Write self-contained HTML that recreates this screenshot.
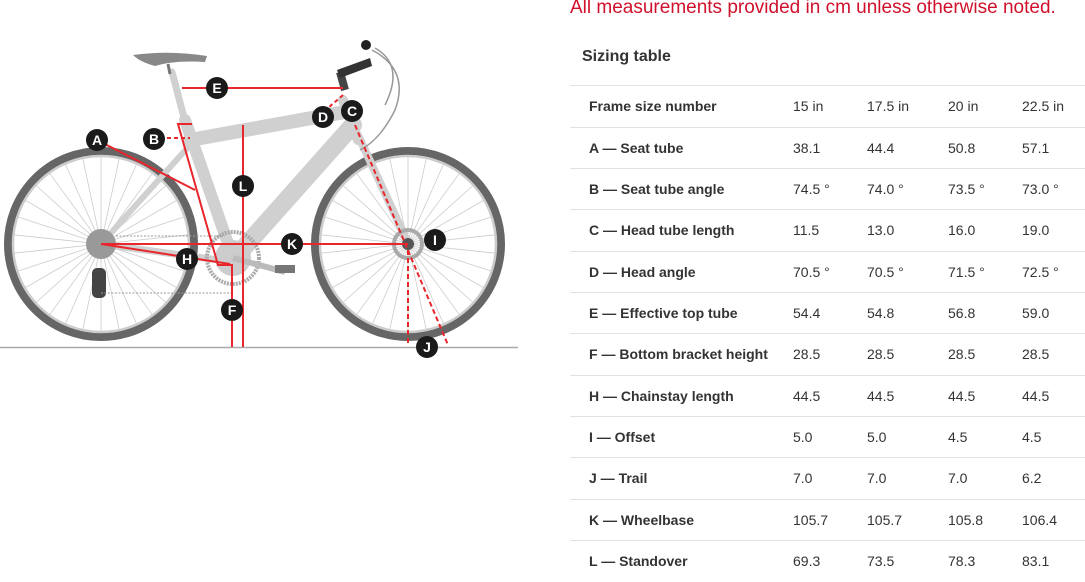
<!DOCTYPE html>
<html><head><meta charset="utf-8"><style>
body{margin:0;width:1085px;height:566px;overflow:hidden;background:#fff;font-family:"Liberation Sans",Arial,sans-serif;position:relative}
.hdr{position:absolute;left:570px;top:-3px;font-size:19px;color:#d0112b;white-space:nowrap}
.title{position:absolute;left:582px;top:48px;font-size:16px;font-weight:bold;color:#333}
.row{position:absolute;left:570px;width:515px;height:41px;border-top:1px solid #e2e2e2;font-size:14px;color:#333}
.row span{position:absolute;top:12px;white-space:nowrap}
.row .l{left:19px;font-weight:bold}
.c1{left:223px}.c2{left:297px}.c3{left:378px}.c4{left:452px}
</style></head><body>
<svg width="530" height="360" style="position:absolute;left:0;top:0">
<defs>
<g id="spk" stroke="#ccc" stroke-width="0.8">
<line x1="0" y1="-88" x2="0" y2="88"/><line x1="0" y1="-88" x2="0" y2="88" transform="rotate(12)"/><line x1="0" y1="-88" x2="0" y2="88" transform="rotate(24)"/><line x1="0" y1="-88" x2="0" y2="88" transform="rotate(36)"/><line x1="0" y1="-88" x2="0" y2="88" transform="rotate(48)"/><line x1="0" y1="-88" x2="0" y2="88" transform="rotate(60)"/><line x1="0" y1="-88" x2="0" y2="88" transform="rotate(72)"/><line x1="0" y1="-88" x2="0" y2="88" transform="rotate(84)"/><line x1="0" y1="-88" x2="0" y2="88" transform="rotate(96)"/><line x1="0" y1="-88" x2="0" y2="88" transform="rotate(108)"/><line x1="0" y1="-88" x2="0" y2="88" transform="rotate(120)"/><line x1="0" y1="-88" x2="0" y2="88" transform="rotate(132)"/><line x1="0" y1="-88" x2="0" y2="88" transform="rotate(144)"/><line x1="0" y1="-88" x2="0" y2="88" transform="rotate(156)"/><line x1="0" y1="-88" x2="0" y2="88" transform="rotate(168)"/>
</g>
</defs>
<line x1="0" y1="347.5" x2="518" y2="347.5" stroke="#aaa" stroke-width="1.5"/>
<use href="#spk" transform="translate(101,244)"/>
<use href="#spk" transform="translate(408,244)"/>
<circle cx="101" cy="244" r="93" fill="none" stroke="#666" stroke-width="8"/>
<circle cx="101" cy="244" r="88" fill="none" stroke="#ccc" stroke-width="2.5"/>
<circle cx="408" cy="244" r="93" fill="none" stroke="#666" stroke-width="8"/>
<circle cx="408" cy="244" r="88" fill="none" stroke="#ccc" stroke-width="2.5"/>
<g stroke="#d0d0d0" stroke-linecap="round" fill="none">
<line x1="101" y1="244" x2="233" y2="262" stroke-width="7"/>
<line x1="101" y1="244" x2="190" y2="145" stroke-width="6"/>
<line x1="185" y1="120" x2="233" y2="258" stroke-width="12"/>
<line x1="172" y1="72" x2="186" y2="125" stroke-width="7"/>
<line x1="190" y1="140" x2="345" y2="112" stroke-width="14"/>
<line x1="353" y1="125" x2="240" y2="252" stroke-width="18"/>
<line x1="343" y1="100" x2="358" y2="140" stroke-width="10"/>
<line x1="358" y1="135" x2="408" y2="243" stroke-width="8"/>
</g>
<path d="M133 55 Q170 50 207 56 L205 62 Q175 60 155 66 Q140 62 133 55Z" fill="#888"/>
<line x1="168" y1="64" x2="170" y2="74" stroke="#777" stroke-width="3"/>
<line x1="340" y1="72" x2="345" y2="90" stroke="#444" stroke-width="8"/>
<path d="M337 70 L370 58 L372 66 L340 78Z" fill="#333"/>
<circle cx="366" cy="45" r="5" fill="#222"/>
<path d="M372 50 Q410 70 395 110 Q380 140 360 150" stroke="#999" fill="none" stroke-width="1.5"/>
<path d="M375 48 Q405 65 385 105" stroke="#999" fill="none" stroke-width="1.5"/>
<circle cx="233" cy="258" r="26" fill="none" stroke="#aaa" stroke-width="4" stroke-dasharray="2 1"/>
<circle cx="233" cy="258" r="18" fill="#ccc"/>
<circle cx="101" cy="244" r="15" fill="#999"/>
<circle cx="408" cy="244" r="14" fill="none" stroke="#aaa" stroke-width="4"/>
<circle cx="408" cy="244" r="6" fill="#555"/>
<rect x="92" y="268" width="14" height="30" rx="5" fill="#444"/>
<line x1="116" y1="236" x2="225" y2="236" stroke="#999" stroke-dasharray="2 1.5"/>
<line x1="101" y1="293" x2="233" y2="293" stroke="#999" stroke-dasharray="2 1.5"/>
<line x1="233" y1="258" x2="285" y2="272" stroke="#bbb" stroke-width="6"/>
<rect x="275" y="265" width="20" height="8" fill="#777"/>
<g stroke="#e8262b" stroke-width="2" fill="none">
<line x1="182" y1="88" x2="343" y2="88"/>
<line x1="343" y1="95" x2="328" y2="108" stroke-dasharray="4 3"/>
<line x1="355" y1="125" x2="448" y2="345" stroke-dasharray="5 3"/>
<line x1="408" y1="250" x2="408" y2="345" stroke-dasharray="5 3"/>
<line x1="101" y1="244" x2="408" y2="244"/>
<line x1="243" y1="125" x2="243" y2="347"/>
<line x1="232" y1="264" x2="232" y2="347"/>
<line x1="101" y1="244" x2="230" y2="264"/>
<polyline points="97,140 195,190"/>
<polyline points="192,124 178,124 218,265 232,265"/>
<line x1="167" y1="138" x2="190" y2="138" stroke-dasharray="4 3"/>
</g>
<g fill="#1a1a1a">
<circle cx="217" cy="88" r="11"/><circle cx="323" cy="117" r="11"/><circle cx="352" cy="111" r="11"/>
<circle cx="97" cy="140" r="11"/><circle cx="154" cy="139" r="11"/><circle cx="243" cy="186" r="11"/>
<circle cx="292" cy="244" r="11"/><circle cx="187" cy="259" r="11"/><circle cx="232" cy="310" r="11"/>
<circle cx="435" cy="240" r="11"/><circle cx="427" cy="347" r="11"/>
</g>
<g fill="#fff" font-family="Liberation Sans,Arial,sans-serif" font-weight="bold" font-size="14" text-anchor="middle">
<text x="217" y="93">E</text><text x="323" y="122">D</text><text x="352" y="116">C</text>
<text x="97" y="145">A</text><text x="154" y="144">B</text><text x="243" y="191">L</text>
<text x="292" y="249">K</text><text x="187" y="264">H</text><text x="232" y="315">F</text>
<text x="435" y="245">I</text><text x="427" y="352">J</text>
</g>
</svg>
<div class="hdr">All measurements provided in cm unless otherwise noted.</div>
<div class="title">Sizing table</div>
<div class="row" style="top:85px"><span class="l">Frame size number</span><span class="c1">15 in</span><span class="c2">17.5 in</span><span class="c3">20 in</span><span class="c4">22.5 in</span></div>
<div class="row" style="top:127px"><span class="l">A — Seat tube</span><span class="c1">38.1</span><span class="c2">44.4</span><span class="c3">50.8</span><span class="c4">57.1</span></div>
<div class="row" style="top:168px"><span class="l">B — Seat tube angle</span><span class="c1">74.5 °</span><span class="c2">74.0 °</span><span class="c3">73.5 °</span><span class="c4">73.0 °</span></div>
<div class="row" style="top:209px"><span class="l">C — Head tube length</span><span class="c1">11.5</span><span class="c2">13.0</span><span class="c3">16.0</span><span class="c4">19.0</span></div>
<div class="row" style="top:251px"><span class="l">D — Head angle</span><span class="c1">70.5 °</span><span class="c2">70.5 °</span><span class="c3">71.5 °</span><span class="c4">72.5 °</span></div>
<div class="row" style="top:292px"><span class="l">E — Effective top tube</span><span class="c1">54.4</span><span class="c2">54.8</span><span class="c3">56.8</span><span class="c4">59.0</span></div>
<div class="row" style="top:333px"><span class="l">F — Bottom bracket height</span><span class="c1">28.5</span><span class="c2">28.5</span><span class="c3">28.5</span><span class="c4">28.5</span></div>
<div class="row" style="top:375px"><span class="l">H — Chainstay length</span><span class="c1">44.5</span><span class="c2">44.5</span><span class="c3">44.5</span><span class="c4">44.5</span></div>
<div class="row" style="top:416px"><span class="l">I — Offset</span><span class="c1">5.0</span><span class="c2">5.0</span><span class="c3">4.5</span><span class="c4">4.5</span></div>
<div class="row" style="top:457px"><span class="l">J — Trail</span><span class="c1">7.0</span><span class="c2">7.0</span><span class="c3">7.0</span><span class="c4">6.2</span></div>
<div class="row" style="top:499px"><span class="l">K — Wheelbase</span><span class="c1">105.7</span><span class="c2">105.7</span><span class="c3">105.8</span><span class="c4">106.4</span></div>
<div class="row" style="top:540px"><span class="l">L — Standover</span><span class="c1">69.3</span><span class="c2">73.5</span><span class="c3">78.3</span><span class="c4">83.1</span></div>
</body></html>
